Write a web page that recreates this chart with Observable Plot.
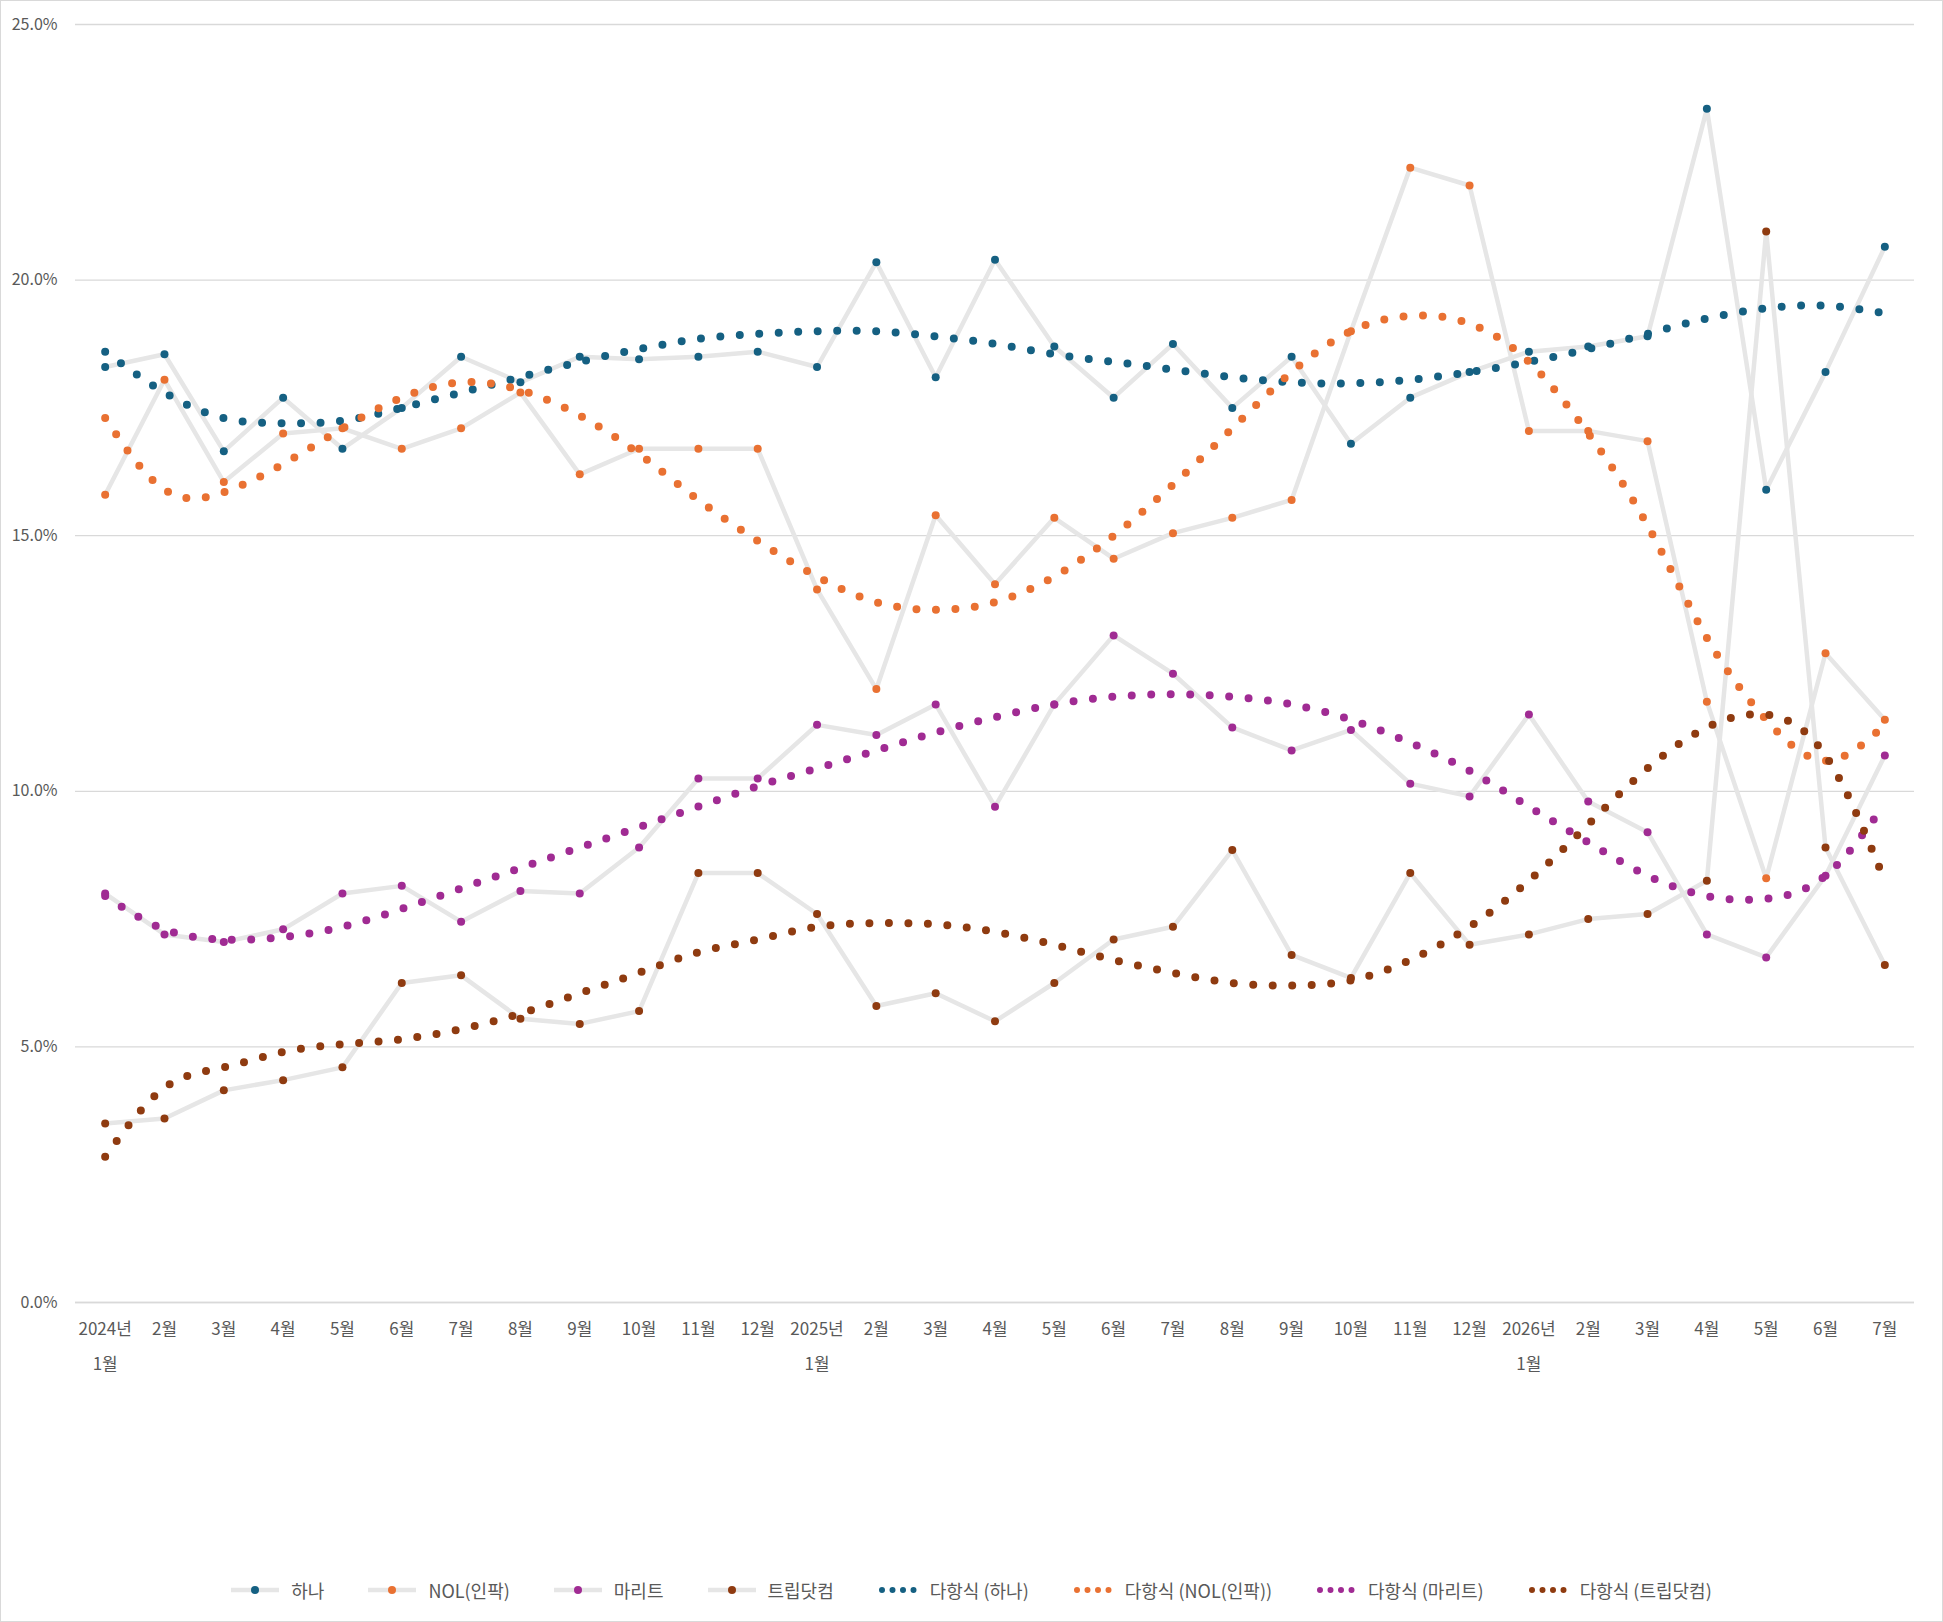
<!DOCTYPE html>
<html><head><meta charset="utf-8">
<script src="https://cdn.jsdelivr.net/npm/d3@7"></script>
<script src="https://cdn.jsdelivr.net/npm/@observablehq/plot@0.6"></script>
<style>
body{margin:0;background:#fff;font-family:"Noto Sans CJK KR","Noto Sans",sans-serif;}
#wrap{position:relative;width:1941px;height:1620px;border:1px solid #d9d9d9;}
#legend{position:absolute;top:1576px;left:0;width:100%;display:flex;justify-content:center;gap:44px;font-size:18px;color:#595959;}
.it{display:flex;align-items:center;gap:12px;}
</style></head><body>
<div id="wrap"><div id="chart"></div><div id="legend"></div></div>
<script>
const months = ["2024년\n1월","2월","3월","4월","5월","6월","7월","8월","9월","10월","11월","12월","2025년\n1월","2월","3월","4월","5월","6월","7월","8월","9월","10월","11월","12월","2026년\n1월","2월","3월","4월","5월","6월","7월"];
const hana = [18.3,18.55,16.65,17.7,16.7,17.5,18.5,18.0,18.5,18.45,18.5,18.6,18.3,20.35,18.1,20.4,18.7,17.7,18.75,17.5,18.5,16.8,17.7,18.2,18.6,18.7,18.9,23.35,15.9,18.2,20.65];
const nol = [15.8,18.05,16.05,17.0,17.1,16.7,17.1,17.8,16.2,16.7,16.7,16.7,13.95,12.0,15.4,14.05,15.35,14.55,15.05,15.35,15.7,19.0,22.2,21.85,17.05,17.05,16.85,11.75,8.3,12.7,11.4];
const marit = [8.0,7.2,7.05,7.3,8.0,8.15,7.45,8.05,8.0,8.9,10.25,10.25,11.3,11.1,11.7,9.7,11.7,13.05,12.3,11.25,10.8,11.2,10.15,9.9,11.5,9.8,9.2,7.2,6.75,8.35,10.7];
const trip = [3.5,3.6,4.15,4.35,4.6,6.25,6.4,5.55,5.45,5.7,8.4,8.4,7.6,5.8,6.05,5.5,6.25,7.1,7.35,8.85,6.8,6.35,8.4,7.0,7.2,7.5,7.6,8.25,20.95,8.9,6.6];
const hanaTrend = [18.6,17.8,17.3,17.2,17.25,17.5,17.8,18.1,18.4,18.65,18.85,18.95,19.0,19.0,18.9,18.75,18.55,18.4,18.25,18.1,18.0,17.98,18.05,18.2,18.4,18.65,18.95,19.25,19.45,19.5,19.35];
const nolTrend = [17.3,15.9,15.85,16.4,17.1,17.7,18.0,17.85,17.35,16.6,15.7,14.9,14.2,13.7,13.55,13.7,14.2,15.0,16.0,17.1,18.2,19.0,19.3,19.15,18.4,17.0,15.2,13.0,11.4,10.6,11.3];
const maritTrend = [7.95,7.3,7.1,7.15,7.35,7.7,8.1,8.5,8.9,9.3,9.7,10.1,10.45,10.8,11.15,11.45,11.7,11.85,11.9,11.85,11.7,11.4,10.95,10.4,9.7,9.0,8.35,7.95,7.9,8.35,9.75];
const tripTrend = [2.85,4.2,4.6,4.9,5.05,5.15,5.35,5.65,6.05,6.45,6.85,7.1,7.35,7.42,7.4,7.25,7.0,6.7,6.45,6.25,6.2,6.3,6.7,7.35,8.25,9.35,10.45,11.25,11.5,10.7,8.25];
const names = ["하나","NOL(인팍)","마리트","트립닷컴"];
const colors = ["#156082","#e97132","#a02b93","#8f3b10"];
const seriesVals = [hana,nol,marit,trip];
const trends = [hanaTrend,nolTrend,maritTrend,tripTrend];

const marks = [Plot.gridY([0,5,10,15,20,25],{stroke:"#d9d9d9",strokeOpacity:1,strokeWidth:1.3})];
seriesVals.forEach((vals,k)=>{
  const d = vals.map((v,i)=>({i,v}));
  marks.push(Plot.line(d,{x:"i",y:"v",stroke:"#e6e6e6",strokeWidth:4.5}));
});
seriesVals.forEach((vals,k)=>{
  const d = vals.map((v,i)=>({i,v}));
  marks.push(Plot.dot(d,{x:"i",y:"v",r:4,fill:colors[k]}));
});
trends.forEach((vals,k)=>{
  const d = vals.map((v,i)=>({i,v}));
  marks.push(Plot.line(d,{x:"i",y:"v",stroke:colors[k],strokeWidth:8,strokeDasharray:"0,19.5",strokeLinecap:"round",curve:"natural"}));
});
marks.push(Plot.axisY({ticks:[0,5,10,15,20,25],tickFormat:d=>d.toFixed(1)+"%",tickSize:0,tickPadding:18,fontSize:16,fill:"#595959"}));
marks.push(Plot.axisX({ticks:d3.range(31),tickFormat:i=>months[i],tickSize:0,tickPadding:8,fontSize:17,fill:"#595959",lineHeight:2.05}));
marks.push(Plot.ruleY([0],{stroke:"#d9d9d9",strokeWidth:1.3}));

const chart = Plot.plot({
  width:1941,height:1400,marginTop:23,marginLeft:74,marginRight:28,marginBottom:99,
  x:{domain:[-0.5,30.5],label:null},
  y:{domain:[0,25],label:null},
  style:{fontFamily:"'Noto Sans CJK KR','Noto Sans',sans-serif",background:"#fff"},
  marks
});
document.getElementById("chart").appendChild(chart);

const leg = document.getElementById("legend");
const mk=(k,trend)=>{
  const it=document.createElement("div");it.className="it";
  const sw = trend
   ? `<svg width="40" height="14"><line x1="4" y1="7" x2="36" y2="7" stroke="${colors[k]}" stroke-width="6" stroke-dasharray="0,10.5" stroke-linecap="round"/></svg>`
   : `<svg width="48" height="14"><line x1="0" y1="7" x2="48" y2="7" stroke="#e6e6e6" stroke-width="4.5"/><circle cx="24" cy="7" r="4" fill="${colors[k]}"/></svg>`;
  it.innerHTML = sw + `<span>${trend?"다항식 ("+names[k]+")":names[k]}</span>`;
  leg.appendChild(it);
};
[0,1,2,3].forEach(k=>mk(k,false));
[0,1,2,3].forEach(k=>mk(k,true));
</script></body></html>
